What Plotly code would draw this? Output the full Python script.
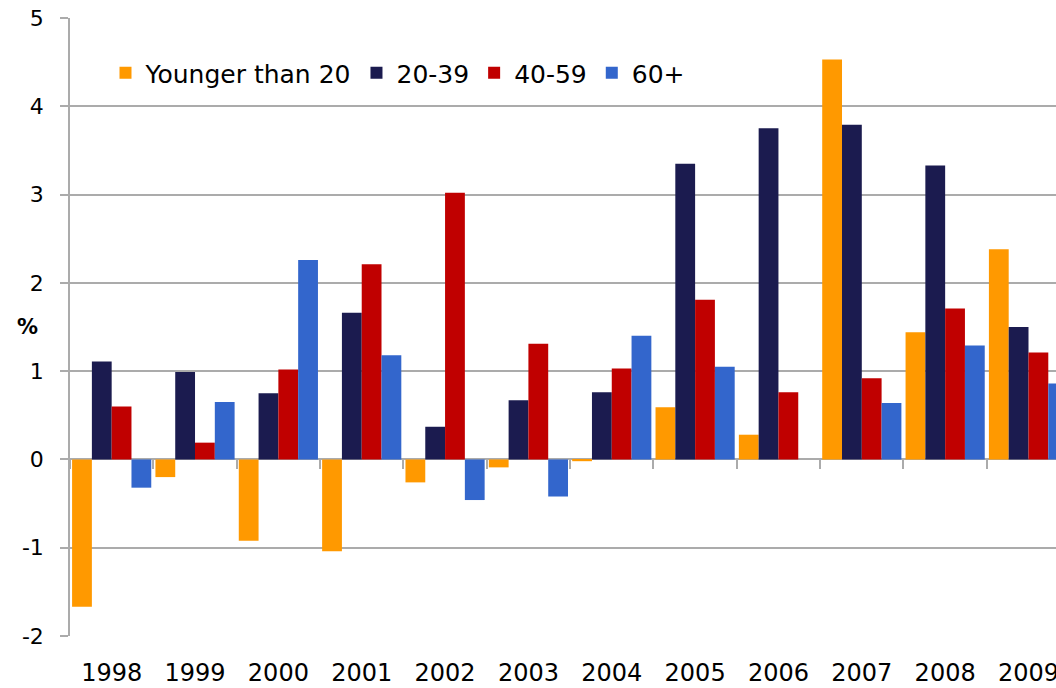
import plotly.graph_objects as go

years = ["1998", "1999", "2000", "2001", "2002", "2003", "2004", "2005", "2006", "2007", "2008", "2009"]
younger_than_20 = [-1.67, -0.20, -0.92, -1.04, -0.26, -0.09, -0.02, 0.59, 0.28, 4.53, 1.44, 2.38]
age_20_39 = [1.11, 0.99, 0.75, 1.66, 0.37, 0.67, 0.76, 3.35, 3.75, 3.79, 3.33, 1.50]
age_40_59 = [0.60, 0.19, 1.02, 2.21, 3.02, 1.31, 1.03, 1.81, 0.76, 0.92, 1.71, 1.21]
age_60_plus = [-0.32, 0.65, 2.26, 1.18, -0.46, -0.42, 1.40, 1.05, None, 0.64, 1.29, 0.86]
y_ticks = [-2, -1, 0, 1, 2, 3, 4, 5]
y_tick_labels = ["-2", "-1", "0", "1", "2", "3", "4", "5"]

series = [
    ("Younger than 20", younger_than_20, "#FF9900"),
    ("20-39", age_20_39, "#1B1B4F"),
    ("40-59", age_40_59, "#C00000"),
    ("60+", age_60_plus, "#3366CC"),
]

FONT = "DejaVu Sans"
GRID = "#ABABAB"

fig = go.Figure()
for name, vals, color in series:
    fig.add_trace(go.Bar(x=years, y=vals, name=name, marker=dict(color=color, line=dict(width=0))))

# helper trace for the tick marks on the zero line
fig.add_trace(go.Scatter(x=years, y=[None] * len(years), xaxis="x2", showlegend=False,
                         hoverinfo="skip", mode="markers"))

fig.update_layout(
    width=1056, height=688,
    margin=dict(l=70, r=0, t=18, b=52),
    plot_bgcolor="white", paper_bgcolor="white",
    barmode="group", bargap=0.05, bargroupgap=0,
    font=dict(family=FONT, color="#000000"),
    showlegend=True,
    legend=dict(orientation="h", x=0.036, y=0.911, xanchor="left", yanchor="middle",
                font=dict(family=FONT, size=25, color="#000000"),
                bgcolor="rgba(0,0,0,0)", itemwidth=30, tracegroupgap=0),
    xaxis=dict(type="category", range=[-0.5, 11.33], showgrid=False, showline=False,
               zeroline=False, ticks="", tickfont=dict(family=FONT, size=24),
               ticklabelstandoff=20, fixedrange=True, automargin=False),
    xaxis2=dict(type="category", overlaying="x", anchor="free", position=2 / 7,
                matches="x", showgrid=False, showline=False, zeroline=False,
                showticklabels=False, ticks="outside", tickson="boundaries",
                ticklen=9, tickwidth=1.5, tickcolor=GRID, automargin=False),
    yaxis=dict(range=[-2, 5], tickvals=y_ticks, ticktext=y_tick_labels,
               showgrid=True, gridcolor=GRID, gridwidth=1.5,
               zeroline=True, zerolinecolor=GRID, zerolinewidth=1.5,
               showline=True, linecolor=GRID, linewidth=1.5,
               ticks="outside", ticklen=8, tickwidth=1.5, tickcolor=GRID,
               tickfont=dict(family=FONT, size=22), ticklabelstandoff=12, automargin=False),
    annotations=[dict(text="<b>%</b>", xref="paper", yref="paper", x=-0.043, y=(636 - 327) / 618,
                      xanchor="center", yanchor="middle", showarrow=False,
                      font=dict(family=FONT, size=21, color="#000000"))],
)

fig.write_html("out.html", config={"displayModeBar": False},
               post_script="document.body.style.margin='0px';")
